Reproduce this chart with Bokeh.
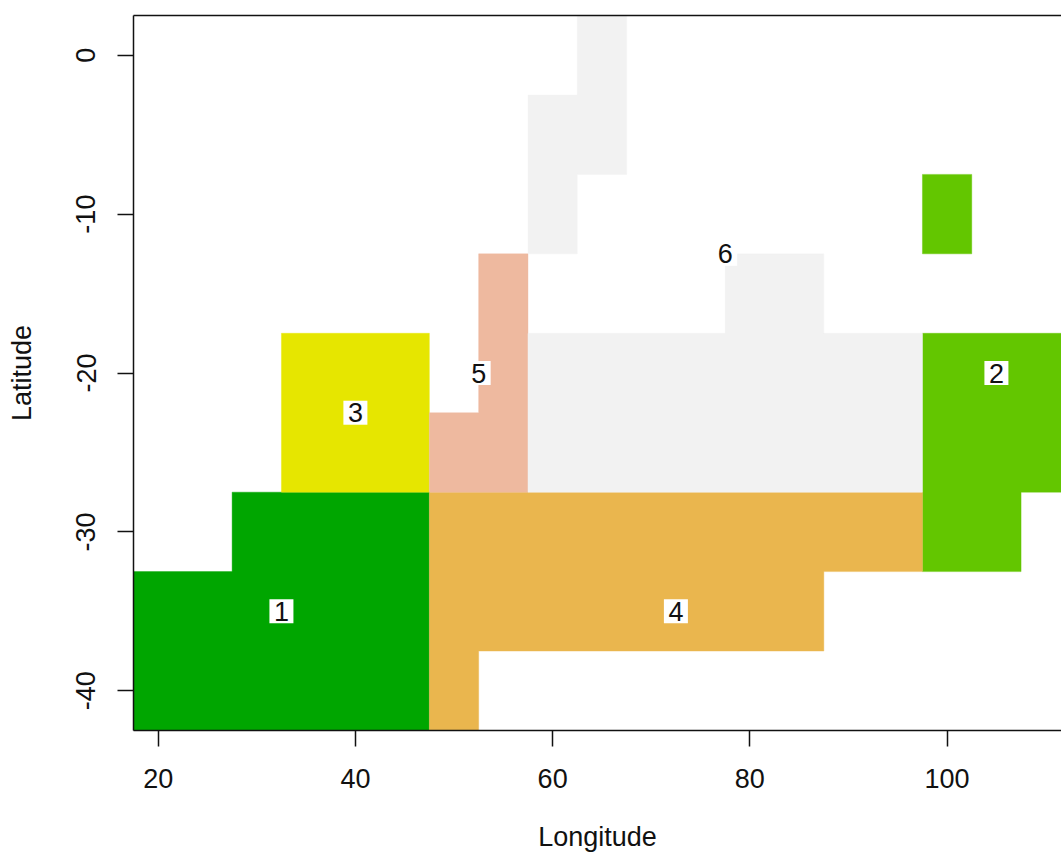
from bokeh.plotting import figure
from bokeh.models import FixedTicker, LinearAxis, Range1d
from bokeh.core.properties import value
from bokeh.embed import file_html
from bokeh.resources import INLINE

# outline of each zone, one or more polygons (longitude / latitude cell corners)
zone_lons = {
    1: [[17.5, 27.5, 27.5, 47.5, 47.5, 17.5]],
    2: [[97.5, 102.5, 102.5, 97.5],
        [97.5, 112.5, 112.5, 107.5, 107.5, 97.5]],
    3: [[32.5, 47.5, 47.5, 32.5]],
    4: [[47.5, 97.5, 97.5, 87.5, 87.5, 52.5, 52.5, 47.5]],
    5: [[52.5, 57.5, 57.5, 47.5, 47.5, 52.5]],
    6: [[62.5, 67.5, 67.5, 62.5, 62.5, 57.5, 57.5, 62.5, 62.5],
        [57.5, 77.5, 77.5, 87.5, 87.5, 97.5, 97.5, 57.5]],
}
zone_lats = {
    1: [[-32.5, -32.5, -27.5, -27.5, -42.5, -42.5]],
    2: [[-7.5, -7.5, -12.5, -12.5],
        [-17.5, -17.5, -27.5, -27.5, -32.5, -32.5]],
    3: [[-17.5, -17.5, -27.5, -27.5]],
    4: [[-27.5, -27.5, -32.5, -32.5, -37.5, -37.5, -42.5, -42.5]],
    5: [[-12.5, -12.5, -27.5, -27.5, -22.5, -22.5]],
    6: [[2.5, 2.5, -7.5, -7.5, -12.5, -12.5, -2.5, -2.5, 2.5],
        [-17.5, -17.5, -12.5, -12.5, -17.5, -17.5, -27.5, -27.5]],
}

palette = ["#00A600", "#63C600", "#E6E600", "#EAB64E", "#EEB99F", "#F2F2F2"]

label_text = ["1", "2", "3", "4", "5", "6"]
label_lon = [32.5, 105, 40, 72.5, 52.5, 77.5]
label_lat = [-35, -20, -22.5, -35, -20, -12.5]

x_ticks = [20, 40, 60, 80, 100]
y_ticks = [0, -10, -20, -30, -40]

FONT = "Liberation Sans"
FS = "27px"
INK = "#111111"

p = figure(width=1061, height=854, output_backend="svg", toolbar_location=None,
           x_range=Range1d(17.5, 111.6), y_range=Range1d(-42.5, 2.5),
           x_axis_label="Longitude", y_axis_label="Latitude",
           min_border_left=133, min_border_right=0, min_border_top=15, min_border_bottom=124)
p.grid.visible = False
p.outline_line_color = None
p.background_fill_color = "white"

zones = sorted(zone_lons)
xs = [[[part] for part in zone_lons[z]] for z in zones]
ys = [[[part] for part in zone_lats[z]] for z in zones]
p.multi_polygons(xs=xs, ys=ys, fill_color=palette, line_color=palette, line_width=0.4)

p.rect(x=label_lon, y=label_lat, width=24, height=24, width_units="screen", height_units="screen",
       fill_color="white", line_color=None)
p.text(x=label_lon, y=label_lat, text=label_text, text_align="center", text_baseline="middle",
       text_color=INK, text_font=value(FONT), text_font_size=value(FS))

for ax, ticks in ((p.xaxis[0], x_ticks), (p.yaxis[0], y_ticks)):
    ax.ticker = FixedTicker(ticks=ticks)
    ax.major_label_overrides = {t: str(t) for t in ticks}
    ax.minor_tick_line_color = None
    ax.major_tick_in = 0
    ax.major_tick_out = 16
    ax.major_tick_line_color = INK
    ax.major_tick_line_width = 1.5
    ax.axis_line_color = INK
    ax.axis_line_width = 1.5
    ax.major_label_text_font = FONT
    ax.major_label_text_font_size = FS
    ax.major_label_text_color = INK
    ax.axis_label_text_font = FONT
    ax.axis_label_text_font_size = FS
    ax.axis_label_text_font_style = "normal"
    ax.axis_label_text_color = INK
p.xaxis[0].major_label_standoff = 22
p.xaxis[0].axis_label_standoff = 31
p.yaxis[0].major_label_standoff = 22
p.yaxis[0].major_label_orientation = "parallel"
p.yaxis[0].axis_label_standoff = 37

top = LinearAxis(ticker=FixedTicker(ticks=[]), axis_line_color=INK, axis_line_width=1.5,
                 major_tick_line_color=None, minor_tick_line_color=None,
                 major_label_text_font_size="0px", major_label_standoff=0)
p.add_layout(top, "above")

open("out.html", "w").write(file_html(p, INLINE))
